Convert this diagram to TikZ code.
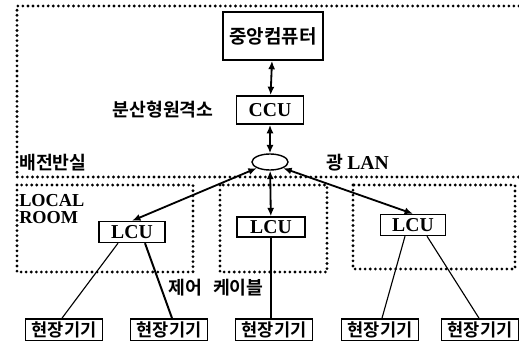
\documentclass[tikz,border=0pt]{standalone}
\usepackage{fontspec}
\setmainfont{Liberation Serif}
\newfontfamily\krfont{Noto Sans CJK KR}[BoldFont={Noto Sans CJK KR Bold}]
\usetikzlibrary{arrows.meta,positioning,shapes.geometric}
\tikzset{
  unitbox/.style={draw, line width=1.2pt, inner sep=2pt, font=\bfseries\fontsize{14}{14}\selectfont},
  devbox/.style={draw, line width=1.2pt, minimum width=77*0.025cm, minimum height=22*0.025cm, inner sep=1pt, font=\krfont\bfseries\fontsize{12.5}{12.5}\selectfont},
  roomline/.style={line width=2.2pt, line cap=round, dash pattern=on 0pt off 3.6pt},
  krlabel/.style={font=\krfont\bfseries\fontsize{13}{13}\selectfont},
  enlabel/.style={font=\bfseries\fontsize{13}{13}\selectfont},
  link/.style={{Latex[length=6pt,width=5pt]}-{Latex[length=6pt,width=5pt]}, line width=1.3pt},
  cable/.style={line width=0.8pt},
}
\begin{document}
\begin{tikzpicture}[x=0.025cm, y=-0.025cm]
  \useasboundingbox (0,0) rectangle (519,341);

  % rooms
  \draw[roomline] (519,6) -- (17,6) -- (17,177) -- (519,177);
  \draw[roomline] (17,185) rectangle (193,272);
  \draw[roomline] (220,185) rectangle (327,272);
  \draw[roomline] (353,185) rectangle (515,269);

  % units
  \node[unitbox, minimum width=100*0.025cm, minimum height=48*0.025cm, font=\krfont\bfseries\fontsize{13.5}{13.5}\selectfont] (comp) at (273,36) {중앙컴퓨터};
  \node[unitbox, minimum width=67*0.025cm, minimum height=28*0.025cm] (ccu) at (270,110) {CCU};
  \node[draw, ellipse, line width=1pt, minimum width=36*0.025cm, minimum height=16*0.025cm, inner sep=0pt] (lan) at (270,162) {};
  \node[unitbox, line width=1pt, minimum width=66*0.025cm, minimum height=21*0.025cm] (lcuA) at (132,232) {LCU};
  \node[unitbox, line width=1pt, minimum width=68*0.025cm, minimum height=20*0.025cm] (lcuB) at (271,227) {LCU};
  \node[unitbox, line width=1pt, minimum width=65*0.025cm, minimum height=21*0.025cm] (lcuC) at (413,225) {LCU};

  % field devices
  \node[devbox] (dev1) at (64,330) {현장기기};
  \node[devbox] (dev2) at (169,330) {현장기기};
  \node[devbox] (dev3) at (274,330) {현장기기};
  \node[devbox] (dev4) at (380,330) {현장기기};
  \node[devbox] (dev5) at (480,330) {현장기기};

  % labels
  \node[krlabel] (remote) at (163,110) {분산형원격소};
  \node[krlabel, anchor=west, inner sep=0pt] (panel) at (19,163) {배전반실};
  \node[krlabel, anchor=west, inner sep=0pt] (optic) at (326,163) {광 \textrm{\bfseries\fontsize{14}{14}\selectfont LAN}};
  \node[enlabel, anchor=north west, align=left, inner sep=0pt] (local) at (19,194) {LOCAL\\[-1pt]ROOM};
  \node[krlabel] (cable) at (216,288) {제어\hspace{0.6em}케이블};

  % links
  \draw[link] (comp) -- (ccu);
  \draw[link] (ccu) -- (lan);
  \draw[link] (lan.south west) -- (lcuA.north);
  \draw[link] (lan) -- (lcuB);
  \draw[link] (lan.south east) -- (lcuC.north);

  % cables
  \draw[cable] (lcuA.south -| 118,0) -- (dev1.north -| 62,0);
  \draw[cable, line width=1.4pt] (lcuA.south -| 145,0) -- (dev2.north -| 172,0);
  \draw[cable] (lcuB.south) -- (dev3.north -| lcuB.south);
  \draw[cable] (lcuC.south -| 405,0) -- (dev4.north -| 382,0);
  \draw[cable] (lcuC.south -| 427,0) -- (dev5.north -| 479,0);
\end{tikzpicture}
\end{document}
